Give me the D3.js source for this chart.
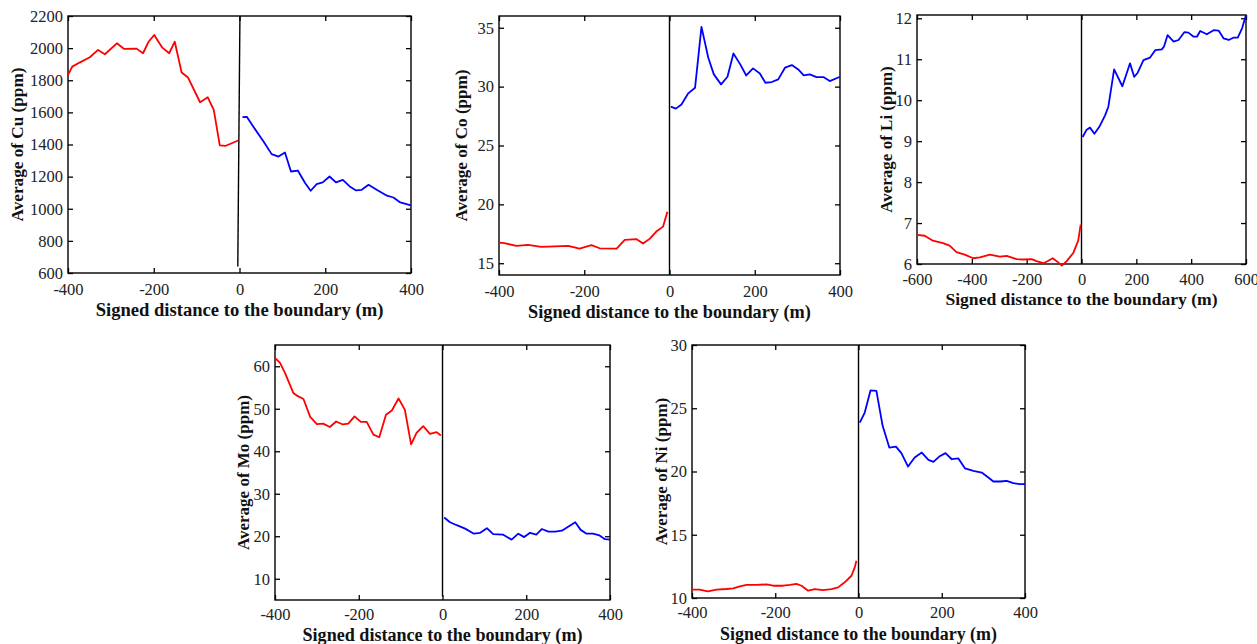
<!DOCTYPE html>
<html><head><meta charset="utf-8">
<script src="https://cdn.jsdelivr.net/npm/d3@7/dist/d3.min.js"></script>
<style>
html,body{margin:0;padding:0;background:#fff;}
svg{display:block;}
.tick text{font-family:"Liberation Serif","Times New Roman",serif;font-size:16.5px;fill:#222;}
.lab{font-family:"Liberation Serif","Times New Roman",serif;font-weight:bold;fill:#111;}
</style>
</head><body>
<svg id="chart" width="1257" height="644"></svg>
<script>
// ---------- DATA ----------
const xLabel = "Signed distance to the boundary (m)";

// Cu
const cuLeftDist = [-400,-390,-373,-349,-330,-314,-286,-269,-240,-225,-212,-199,-180,-164,-151,-135,-120,-92,-74,-60,-46,-32,-3];
const cuLeftVal  = [1833,1885,1910,1943,1989,1962,2030,1995,1997,1968,2040,2082,2003,1968,2040,1848,1817,1663,1694,1616,1394,1392,1425];
const cuRightDist = [7,17,32,56,75,91,106,120,136,153,166,180,194,210,225,241,257,272,285,301,320,344,359,375,400];
const cuRightVal  = [1570,1572,1512,1419,1340,1325,1350,1232,1238,1160,1112,1153,1164,1201,1164,1180,1139,1114,1118,1149,1118,1081,1070,1039,1021];
const cuBoundaryDist = [-4,1];
const cuBoundaryVal = [640,2200];
const cuXTicks = [-400,-200,0,200,400];
const cuYTicks = [600,800,1000,1200,1400,1600,1800,2000,2200];

// Co
const coLeftDist = [-400,-387,-359,-332,-301,-269,-238,-211,-183,-164,-124,-105,-77,-62,-46,-31,-15,-5];
const coLeftVal  = [16.75,16.70,16.47,16.56,16.39,16.44,16.47,16.24,16.53,16.27,16.24,16.98,17.04,16.67,17.09,17.69,18.11,19.38];
const coRightDist = [3,15,28,44,60,75,91,104,121,136,150,166,180,196,212,225,240,255,271,287,302,315,329,345,361,376,400];
const coRightVal  = [28.30,28.13,28.49,29.43,29.91,35.08,32.45,31.04,30.19,30.84,32.82,31.89,30.95,31.55,31.12,30.33,30.39,30.62,31.61,31.83,31.46,30.95,31.04,30.81,30.81,30.47,30.84];
const coBoundaryDist = [0,0];
const coBoundaryVal = [14,36];
const coXTicks = [-400,-200,0,200,400];
const coYTicks = [15,20,25,30,35];

// Li
const liLeftDist = [-600,-572,-542,-505,-481,-456,-426,-395,-371,-334,-298,-273,-237,-212,-182,-164,-139,-121,-105,-85,-72,-54,-30,-12,-3];
const liLeftVal  = [6.71,6.69,6.57,6.51,6.45,6.29,6.23,6.14,6.16,6.23,6.18,6.20,6.12,6.11,6.12,6.07,6.02,6.08,6.14,6.04,5.96,6.07,6.27,6.57,6.96];
const liRightDist = [4,19,31,47,65,86,98,119,149,177,192,205,226,250,269,293,301,314,336,354,375,390,409,421,433,457,482,500,518,537,555,570,586,600];
const liRightVal  = [9.10,9.28,9.33,9.18,9.35,9.63,9.84,10.75,10.34,10.90,10.57,10.67,10.98,11.04,11.22,11.24,11.31,11.59,11.43,11.47,11.66,11.65,11.55,11.55,11.69,11.61,11.71,11.70,11.51,11.47,11.53,11.53,11.76,12.08];
const liBoundaryDist = [0,0];
const liBoundaryVal = [6,12.08];
const liXTicks = [-600,-400,-200,0,200,400,600];
const liYTicks = [6,7,8,9,10,11,12];

// Mo
const moLeftDist = [-400,-388,-376,-368,-356,-348,-332,-316,-300,-285,-269,-254,-238,-225,-210,-195,-181,-165,-151,-135,-121,-105,-90,-75,-62,-46,-30,-14,-4];
const moLeftVal  = [61.96,60.8,58.4,56.5,53.7,53.1,52.3,48.1,46.4,46.5,45.7,47.0,46.3,46.5,48.2,46.9,46.9,43.9,43.3,48.6,49.6,52.4,49.8,41.6,44.3,45.9,44.1,44.5,43.7];
const moRightDist = [4,18,34,54,75,90,106,121,144,165,181,195,209,224,237,253,269,285,301,317,330,344,359,375,388,400];
const moRightVal  = [24.4,23.3,22.6,21.8,20.6,20.8,21.9,20.5,20.4,19.2,20.6,19.8,20.8,20.4,21.7,21.1,21.1,21.3,22.3,23.3,21.5,20.6,20.6,20.2,19.3,19.2];
const moBoundaryDist = [0,0];
const moBoundaryVal = [5.8,65];
const moXTicks = [-400,-200,0,200,400];
const moYTicks = [10,20,30,40,50,60];

// Ni
const niLeftDist = [-400,-382,-362,-341,-317,-301,-285,-269,-245,-221,-205,-181,-165,-149,-137,-121,-105,-85,-65,-49,-33,-17,-9,-5];
const niLeftVal  = [10.66,10.66,10.53,10.66,10.71,10.76,10.92,11.03,11.03,11.08,10.97,10.97,11.03,11.11,10.97,10.58,10.71,10.63,10.71,10.84,11.24,11.76,12.42,12.95];
const niRightDist = [3,15,29,43,58,74,90,103,119,135,152,168,180,194,209,224,240,256,276,296,312,324,340,356,372,388,400];
const niRightVal  = [23.87,24.66,26.42,26.37,23.61,21.89,21.97,21.45,20.39,21.11,21.50,20.92,20.76,21.18,21.45,20.97,21.03,20.24,20.05,19.92,19.53,19.21,19.21,19.26,19.08,19.00,19.00];
const niBoundaryDist = [0,0];
const niBoundaryVal = [10,30];
const niXTicks = [-400,-200,0,200,400];
const niYTicks = [10,15,20,25,30];

// ---------- LAYOUT ----------
const panels = [
  {el:"Cu", left:68,  right:411,  top:16,  bottom:273, xDomain:[-400,400], yDomain:[600,2200],
   ld:cuLeftDist, lv:cuLeftVal, rd:cuRightDist, rv:cuRightVal, bd:cuBoundaryDist, bv:cuBoundaryVal, xt:cuXTicks, yt:cuYTicks,
   yLabX:17, xLabY:316, xLabSize:18.6, yLabSize:17.2, pad:10},
  {el:"Co", left:499, right:840,  top:16,  bottom:275, xDomain:[-400,400], yDomain:[14,36],
   ld:coLeftDist, lv:coLeftVal, rd:coRightDist, rv:coRightVal, bd:coBoundaryDist, bv:coBoundaryVal, xt:coXTicks, yt:coYTicks,
   yLabX:461, xLabY:318, xLabSize:18.3, yLabSize:17.1, pad:10},
  {el:"Li", left:917, right:1246, top:15,  bottom:264, xDomain:[-600,600], yDomain:[6,12.08],
   ld:liLeftDist, lv:liLeftVal, rd:liRightDist, rv:liRightVal, bd:liBoundaryDist, bv:liBoundaryVal, xt:liXTicks, yt:liYTicks,
   yLabX:886, xLabY:305, xLabSize:17.6, yLabSize:17, pad:9},
  {el:"Mo", left:275, right:610,  top:345, bottom:600, xDomain:[-400,400], yDomain:[5,65],
   ld:moLeftDist, lv:moLeftVal, rd:moRightDist, rv:moRightVal, bd:moBoundaryDist, bv:moBoundaryVal, xt:moXTicks, yt:moYTicks,
   yLabX:243, xLabY:641, xLabSize:18.1, yLabSize:17, pad:8},
  {el:"Ni", left:692, right:1025, top:345, bottom:598, xDomain:[-400,400], yDomain:[10,30],
   ld:niLeftDist, lv:niLeftVal, rd:niRightDist, rv:niRightVal, bd:niBoundaryDist, bv:niBoundaryVal, xt:niXTicks, yt:niYTicks,
   yLabX:661, xLabY:640, xLabSize:17.9, yLabSize:17, pad:8}
];

const svg = d3.select("#chart");

panels.forEach(p => {
  const x = d3.scaleLinear().domain(p.xDomain).range([p.left, p.right]);
  const y = d3.scaleLinear().domain(p.yDomain).range([p.bottom, p.top]);
  const g = svg.append("g");

  const tick = 5;
  const gb = g.append("g").attr("transform", `translate(0,${p.bottom})`)
    .call(d3.axisBottom(x).tickValues(p.xt).tickFormat(d3.format("d")).tickSizeInner(-tick).tickSizeOuter(0).tickPadding(p.pad));
  const gl = g.append("g").attr("transform", `translate(${p.left},0)`)
    .call(d3.axisLeft(y).tickValues(p.yt).tickFormat(d3.format("d")).tickSizeInner(-tick).tickSizeOuter(0).tickPadding(5));
  const gt = g.append("g").attr("transform", `translate(0,${p.top})`)
    .call(d3.axisTop(x).tickValues(p.xt).tickFormat("").tickSizeInner(-tick).tickSizeOuter(0));
  const gr = g.append("g").attr("transform", `translate(${p.right},0)`)
    .call(d3.axisRight(y).tickValues(p.yt).tickFormat("").tickSizeInner(-tick).tickSizeOuter(0));
  [gb,gl,gt,gr].forEach(a => {
    a.attr("font-family", null).attr("font-size", null);
    a.select(".domain").remove();
    a.selectAll(".tick line").attr("stroke","#000").attr("stroke-width",1.3);
  });
  gb.selectAll(".tick text").text(d => d < 0 ? "-" + Math.abs(d) : d);

  g.append("rect").attr("x",p.left).attr("y",p.top)
    .attr("width",p.right-p.left).attr("height",p.bottom-p.top)
    .attr("fill","none").attr("stroke","#000").attr("stroke-width",1.4);

  const line = d3.line().x(d=>x(d[0])).y(d=>y(d[1]));
  g.append("path").datum(p.bd.map((d,i)=>[d,p.bv[i]]))
    .attr("d", line).attr("stroke","#000").attr("stroke-width",1.4).attr("fill","none");
  g.append("path").datum(p.ld.map((d,i)=>[d,p.lv[i]]))
    .attr("d", line).attr("fill","none").attr("stroke","#ff0000").attr("stroke-width",1.8).attr("stroke-linejoin","round");
  g.append("path").datum(p.rd.map((d,i)=>[d,p.rv[i]]))
    .attr("d", line).attr("fill","none").attr("stroke","#0000ff").attr("stroke-width",1.8).attr("stroke-linejoin","round");

  g.append("text").attr("class","lab").style("font-size", p.xLabSize+"px")
    .attr("x",(p.left+p.right)/2).attr("y",p.xLabY)
    .attr("text-anchor","middle").text(xLabel);
  g.append("text").attr("class","lab").style("font-size", p.yLabSize+"px")
    .attr("transform",`translate(${p.yLabX},${(p.top+p.bottom)/2}) rotate(-90)`)
    .attr("text-anchor","middle").attr("dy","0.35em")
    .text(`Average of ${p.el} (ppm)`);
});
</script>
</body></html>
